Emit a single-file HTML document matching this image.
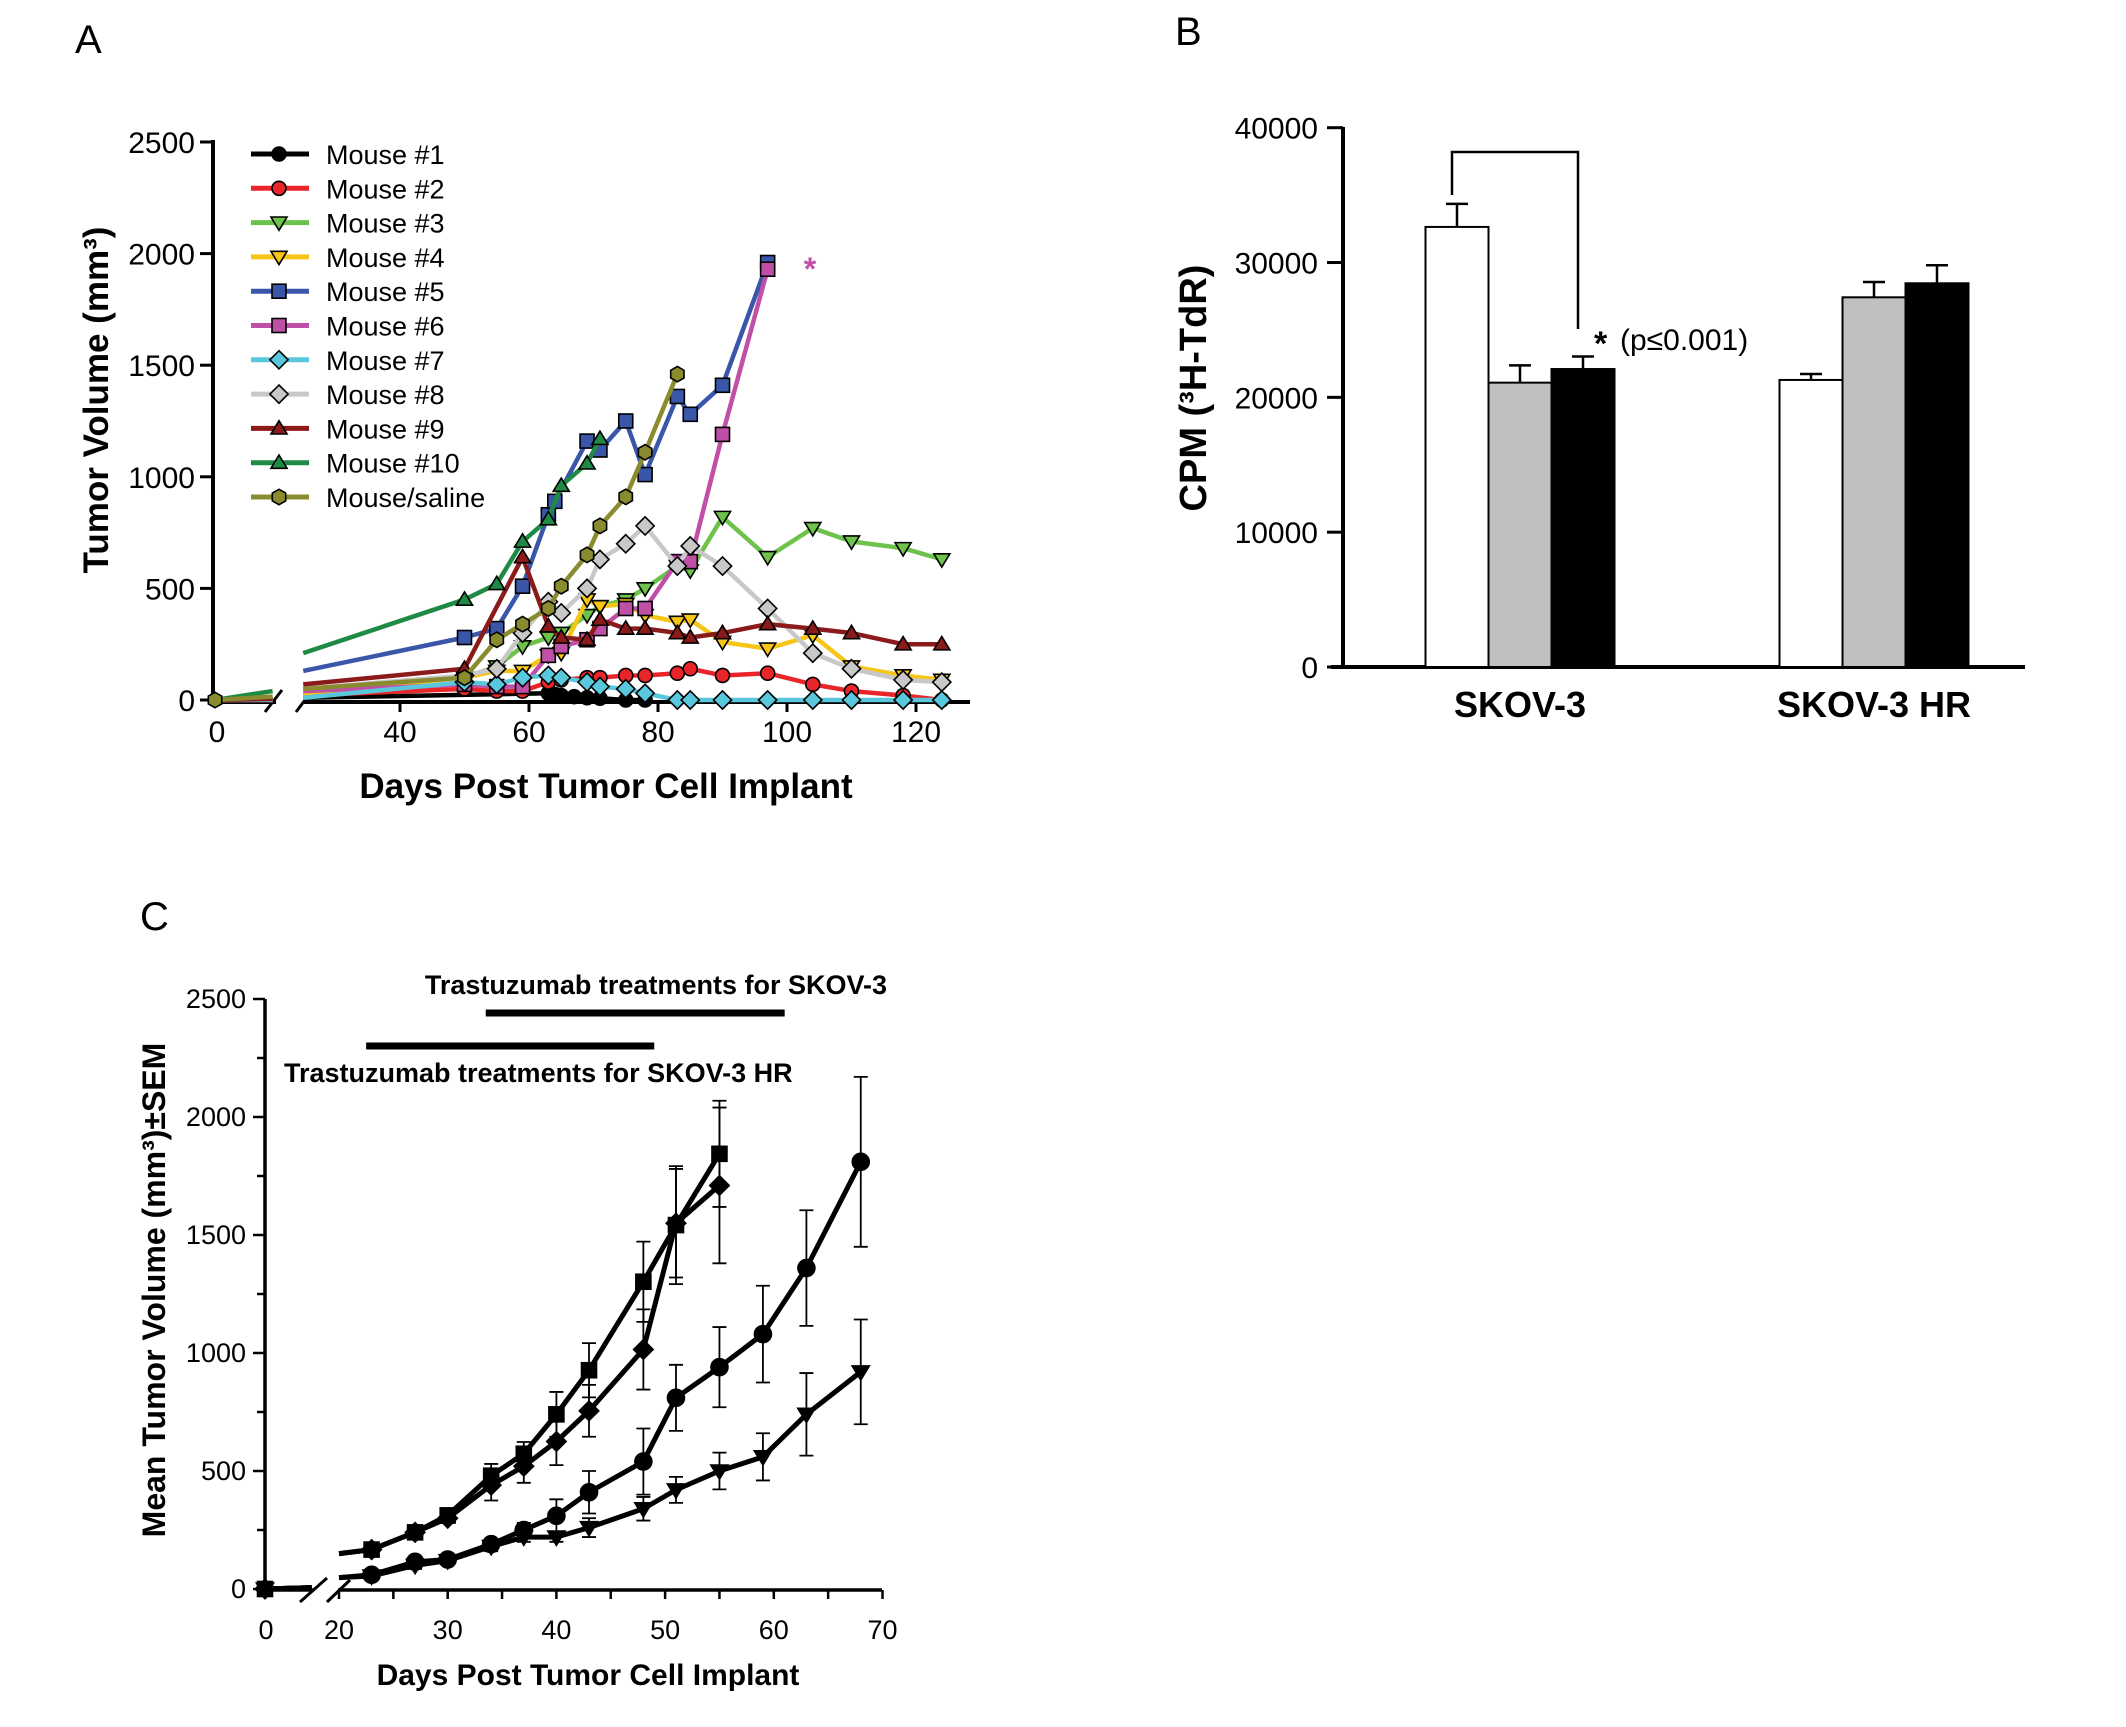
<!DOCTYPE html>
<html><head><meta charset="utf-8"><style>
html,body{margin:0;padding:0;background:#fff;}
svg{display:block;font-family:"Liberation Sans",Arial,sans-serif;}
</style></head><body>
<svg id="fig" width="2126" height="1727" viewBox="0 0 2126 1727" xmlns="http://www.w3.org/2000/svg">
<text x="75" y="53" font-size="40">A</text>
<text x="1175" y="45" font-size="40">B</text>
<text x="140" y="930" font-size="40">C</text>
<text transform="translate(108,400) rotate(-90)" text-anchor="middle" font-size="35" font-weight="bold">Tumor Volume (mm³)</text>
<text x="606" y="798" text-anchor="middle" font-size="35" font-weight="bold">Days Post Tumor Cell Implant</text>
<text x="810" y="280" text-anchor="middle" font-size="32" font-weight="bold" fill="#c04fa8">*</text>
<text transform="translate(1206,388) rotate(-90)" text-anchor="middle" font-size="38" font-weight="bold">CPM (³H-TdR)</text>
<text x="1594" y="355" font-size="34" font-weight="bold">*</text>
<text x="1620" y="350" font-size="30">(p≤0.001)</text>
<text transform="translate(165,1290) rotate(-90)" text-anchor="middle" font-size="32" font-weight="bold">Mean Tumor Volume (mm³)±SEM</text>
<text x="588" y="1685" text-anchor="middle" font-size="30" font-weight="bold">Days Post Tumor Cell Implant</text>
<text x="887" y="994" text-anchor="end" font-size="27" font-weight="bold">Trastuzumab treatments for SKOV-3</text>
<text x="284" y="1082" font-size="27" font-weight="bold">Trastuzumab treatments for SKOV-3 HR</text>
<g id="A"></g><g id="B"></g><g id="C"></g>
</svg>
<script>
// ---------- Panel A data ----------
const aNames = ["Mouse #1","Mouse #2","Mouse #3","Mouse #4","Mouse #5","Mouse #6","Mouse #7","Mouse #8","Mouse #9","Mouse #10","Mouse/saline"];
const aColors = ["#000000","#e8262a","#6cc24a","#f5c518","#3a56a8","#c04fa8","#5ac8dc","#c8c8c8","#8b1a1a","#1e8a44","#8a8a2e"];
const aShapes = ["circle","circle","tridown","tridown","square","square","diamond","diamond","triup","triup","hex"];
const aStart = [10,20,40,30,130,40,10,50,70,210,50];
const aPre = [0,0,5,10,5,5,0,5,5,40,15];
const aDays1 = [63,64,65,67,69,71,75,78];
const aVals1 = [30,25,20,15,10,8,0,0];
const aDays2 = [50,55,59,63,65,69,71,75,78,83,85,90,97,104,110,118,124];
const aVals2 = [50,40,40,80,90,100,100,110,110,120,140,110,120,70,40,20,0];
const aDays3 = [50,55,59,63,65,69,71,75,78,83,85,90,97,104,110,118,124];
const aVals3 = [100,150,240,280,300,380,420,450,500,600,580,820,640,770,710,680,630];
const aDays4 = [50,55,59,63,65,69,71,75,78,83,85,90,97,104,110,118,124];
const aVals4 = [100,130,130,200,210,450,420,430,380,350,360,260,230,290,150,110,90];
const aDays5 = [50,55,59,63,64,69,71,75,78,83,85,90,97];
const aVals5 = [280,320,510,830,890,1160,1120,1250,1010,1360,1280,1410,1960];
const aDays6 = [50,55,59,63,65,69,71,75,78,83,85,90,97];
const aVals6 = [70,60,60,200,240,270,320,410,410,620,620,1190,1930];
const aDays7 = [50,55,59,63,65,69,71,75,78,83,85,90,97,104,110,118,124];
const aVals7 = [80,70,100,110,100,80,60,50,30,0,0,0,0,0,0,0,0];
const aDays8 = [50,55,59,63,65,69,71,75,78,83,85,90,97,104,110,118,124];
const aVals8 = [110,140,300,440,390,500,630,700,780,600,690,600,410,210,140,90,80];
const aDays9 = [50,59,63,65,69,71,75,78,83,85,90,97,104,110,118,124];
const aVals9 = [140,640,330,280,270,360,320,320,300,280,300,340,320,300,250,250];
const aDays10 = [50,55,59,63,65,69,71];
const aVals10 = [450,520,710,810,960,1060,1170];
const aDays11 = [50,55,59,63,65,69,71,75,78,83];
const aVals11 = [100,270,340,410,510,650,780,910,1110,1460];
const aYTicks = [0,500,1000,1500,2000,2500];
const aXTicks = [40,60,80,100,120];
// ---------- Panel B data ----------
const bGroups = ["SKOV-3","SKOV-3 HR"];
const bFills = ["#ffffff","#c0c0c0","#000000"];
const bVals1 = [32640,21090,22100];
const bErr1 = [34350,22370,23030];
const bVals2 = [21290,27420,28460];
const bErr2 = [21730,28560,29800];
const bYTicks = [0,10000,20000,30000,40000];
// ---------- Panel C data ----------
const cShapes = ["square","diamond","circle","triangle"];
const cStart = [150,150,48,48];
const cDaysA = [23,27,30,34,37,40,43,48,51,55];
const cDaysB = [23,27,30,34,37,40,43,48,51,55,59,63,68];
const cSquare = [167,240,312,480,573,740,927,1302,1542,1844];
const cSquareSem = [15,20,20,50,50,95,115,170,250,225];
const cDiamond = [167,240,300,440,520,625,755,1015,1550,1710];
const cDiamondSem = [15,20,20,65,70,100,110,170,230,330];
const cCircle = [60,115,125,190,250,310,410,540,810,940,1080,1360,1810];
const cCircleSem = [10,15,15,20,30,70,90,140,140,170,205,245,360];
const cTri = [55,100,120,180,220,220,260,340,420,500,560,740,920];
const cTriSem = [10,15,15,20,20,20,40,50,55,78,100,175,222];
const cYTicks = [0,500,1000,1500,2000,2500];
const cXTicks = [20,30,40,50,60,70];
const cTreatSkov = [33.5,61];
const cTreatHR = [22.5,49];

const NS = "http://www.w3.org/2000/svg";
function mk(parent, tag, attrs){const e=document.createElementNS(NS,tag);for(const k in attrs)e.setAttribute(k,attrs[k]);parent.appendChild(e);return e;}
function marker(g, shape, x, y, r, fill){
  let e;
  if(shape==="circle"){e=mk(g,"circle",{cx:x,cy:y,r:r});}
  else if(shape==="square"){e=mk(g,"rect",{x:x-r,y:y-r,width:2*r,height:2*r});}
  else if(shape==="diamond"){e=mk(g,"polygon",{points:`${x},${y-r*1.3} ${x+r*1.3},${y} ${x},${y+r*1.3} ${x-r*1.3},${y}`});}
  else if(shape==="tridown"||shape==="triangle"){e=mk(g,"polygon",{points:`${x-r*1.15},${y-r*0.8} ${x+r*1.15},${y-r*0.8} ${x},${y+r*1.1}`});}
  else if(shape==="triup"){e=mk(g,"polygon",{points:`${x-r*1.15},${y+r*0.8} ${x+r*1.15},${y+r*0.8} ${x},${y-r*1.1}`});}
  else {let p=[];for(let i=0;i<6;i++){const a=Math.PI/6+i*Math.PI/3;p.push((x+r*1.1*Math.cos(a)).toFixed(1)+","+(y+r*1.1*Math.sin(a)).toFixed(1));}e=mk(g,"polygon",{points:p.join(" ")});}
  e.setAttribute("fill",fill);e.setAttribute("stroke","#000");e.setAttribute("stroke-width","1.6");
  return e;
}

// ---------- Panel A ----------
(function(){
  const g=document.getElementById("A");
  const yA=v=>700-v*(558/2500);
  const xR=d=>400+(d-40)*6.45;
  const xL=d=>215+d*6.4;
  let e;
  e=mk(g,"line",{x1:213,y1:140,x2:213,y2:702,stroke:"#000","stroke-width":4});
  
  
  e=mk(g,"line",{x1:211,y1:702,x2:276,y2:702,stroke:"#000","stroke-width":4});
  
  
  e=mk(g,"line",{x1:304,y1:702,x2:970,y2:702,stroke:"#000","stroke-width":4});
  
  
  e=mk(g,"path",{d:"M265,712 L282,690 M296,712 L311,692",stroke:"#000","stroke-width":3,fill:"none"});
  
  
  aYTicks.forEach(v=>{
    let t=mk(g,"line",{x1:200,y1:yA(v),x2:213,y2:yA(v),stroke:"#000","stroke-width":3});
    
    
    let l=mk(g,"text",{x:195,y:yA(v)+11,"text-anchor":"end","font-size":30});
    l.textContent=v;
    
    
  });
  aXTicks.forEach(v=>{
    let t=mk(g,"line",{x1:xR(v),y1:702,x2:xR(v),y2:712,stroke:"#000","stroke-width":3});
    
    
    let l=mk(g,"text",{x:xR(v),y:742,"text-anchor":"middle","font-size":30});
    l.textContent=v;
    
    
  });
  let l0=mk(g,"text",{x:217,y:742,"text-anchor":"middle","font-size":30});
  l0.textContent="0";
  
  
  const days=[aDays1,aDays2,aDays3,aDays4,aDays5,aDays6,aDays7,aDays8,aDays9,aDays10,aDays11];
  const vals=[aVals1,aVals2,aVals3,aVals4,aVals5,aVals6,aVals7,aVals8,aVals9,aVals10,aVals11];
  for(let i=0;i<aNames.length;i++){
    const sg=mk(g,"g",{});
    
    
    let pre=mk(sg,"line",{x1:xL(0),y1:yA(0),x2:xL(9),y2:yA(aPre[i]),stroke:aColors[i],"stroke-width":4.5});
    
    
    let pts=[[xR(25),yA(aStart[i])]];
    days[i].forEach((d,j)=>pts.push([xR(d),yA(vals[i][j])]));
    let pl=mk(sg,"polyline",{points:pts.map(p=>p.join(",")).join(" "),fill:"none",stroke:aColors[i],"stroke-width":4.5,"stroke-linejoin":"round"});
    
    
    days[i].forEach((d,j)=>{
      let m=marker(sg,aShapes[i],xR(d),yA(vals[i][j]),7,aColors[i]);
      
      
    });
  }
  let m0=marker(g,"hex",xL(0),yA(0),7,aColors[10]);
  
  
  for(let i=0;i<aNames.length;i++){
    const y=154+i*34.3;
    const lg=mk(g,"g",{});
    
    
    mk(lg,"line",{x1:251,y1:y,x2:309,y2:y,stroke:aColors[i],"stroke-width":5});
    marker(lg,aShapes[i],279,y,7,aColors[i]);
    let t=mk(lg,"text",{x:326,y:y+10,"font-size":27});
    t.textContent=aNames[i];
  }
})();

// ---------- Panel B ----------
(function(){
  const g=document.getElementById("B");
  const yB=v=>667-v*(539.3/40000);
  const centers=[1520,1874];
  const bw=63;
  let e;
  e=mk(g,"line",{x1:1343,y1:127,x2:1343,y2:669,stroke:"#000","stroke-width":4});
  
  
  e=mk(g,"line",{x1:1331,y1:667,x2:2025,y2:667,stroke:"#000","stroke-width":4});
  
  
  bYTicks.forEach(v=>{
    let t=mk(g,"line",{x1:1327,y1:yB(v),x2:1343,y2:yB(v),stroke:"#000","stroke-width":3});
    
    
    let l=mk(g,"text",{x:1318,y:yB(v)+11,"text-anchor":"end","font-size":30});
    l.textContent=v;
    
    
  });
  const vals=[bVals1,bVals2],errs=[bErr1,bErr2];
  for(let gi=0;gi<2;gi++){
    for(let k=0;k<3;k++){
      const x=centers[gi]-1.5*bw+k*bw;
      let ebar=mk(g,"path",{d:`M${x+bw/2},${yB(vals[gi][k])} V${yB(errs[gi][k])} M${x+bw/2-11},${yB(errs[gi][k])} H${x+bw/2+11}`,stroke:"#000","stroke-width":2.5,fill:"none"});
      
      
      let r=mk(g,"rect",{x:x,y:yB(vals[gi][k]),width:bw,height:667-yB(vals[gi][k]),fill:bFills[k],stroke:"#000","stroke-width":2});
      
      
    }
    let l=mk(g,"text",{x:centers[gi],y:717,"text-anchor":"middle","font-size":36,"font-weight":"bold"});
    l.textContent=bGroups[gi];
    
    
  }
  e=mk(g,"path",{d:"M1452,195 V152 H1578 V329",stroke:"#000","stroke-width":2.5,fill:"none"});
  
  
})();

// ---------- Panel C ----------
(function(){
  const g=document.getElementById("C");
  const yC=v=>1589-v*(590/2500);
  const xR=d=>447.7+(d-30)*10.87;
  const xL=d=>265+d*10.87;
  let e;
  e=mk(g,"line",{x1:265,y1:999,x2:265,y2:1591,stroke:"#000","stroke-width":3.5});
  
  
  e=mk(g,"line",{x1:263,y1:1590,x2:314,y2:1590,stroke:"#000","stroke-width":3.5});
  
  
  e=mk(g,"line",{x1:338,y1:1590,x2:882,y2:1590,stroke:"#000","stroke-width":3.5});
  
  
  e=mk(g,"path",{d:"M300,1602 L327,1578 M327,1602 L350,1580",stroke:"#000","stroke-width":3,fill:"none"});
  
  
  for(let v=0;v<=2500;v+=250){
    let t=mk(g,"line",{x1:v%500===0?253:257,y1:yC(v),x2:265,y2:yC(v),stroke:"#000","stroke-width":2.5});
    
    
  }
  cYTicks.forEach(v=>{
    let l=mk(g,"text",{x:246,y:yC(v)+9,"text-anchor":"end","font-size":27});
    l.textContent=v;
    
    
  });
  for(let d=20;d<=70;d+=5){
    let t=mk(g,"line",{x1:xR(d),y1:1590,x2:xR(d),y2:1599,stroke:"#000","stroke-width":2.5});
    
    
  }
  cXTicks.forEach(v=>{
    let l=mk(g,"text",{x:xR(v),y:1639,"text-anchor":"middle","font-size":27});
    l.textContent=v;
    
    
  });
  let l0=mk(g,"text",{x:266,y:1639,"text-anchor":"middle","font-size":27});
  l0.textContent="0";
  
  
  e=mk(g,"line",{x1:xR(cTreatSkov[0]),y1:1013,x2:xR(cTreatSkov[1]),y2:1013,stroke:"#000","stroke-width":7});
  
  
  e=mk(g,"line",{x1:xR(cTreatHR[0]),y1:1046,x2:xR(cTreatHR[1]),y2:1046,stroke:"#000","stroke-width":7});
  
  
  const sDays=[cDaysA,cDaysA,cDaysB,cDaysB];
  const sVals=[cSquare,cDiamond,cCircle,cTri];
  const sSem=[cSquareSem,cDiamondSem,cCircleSem,cTriSem];
  for(let i=0;i<4;i++){
    const sg=mk(g,"g",{});
    
    
    sDays[i].forEach((d,j)=>{
      const x=xR(d),v=sVals[i][j],s=sSem[i][j];
      let eb=mk(sg,"path",{d:`M${x},${yC(v-s)} V${yC(v+s)} M${x-7},${yC(v+s)} H${x+7} M${x-7},${yC(v-s)} H${x+7}`,stroke:"#000","stroke-width":1.8,fill:"none"});
      
      
    });
    let pre=mk(sg,"line",{x1:xL(0),y1:yC(0),x2:xL(4.3),y2:yC(6),stroke:"#000","stroke-width":5});
    
    
    let pts=[[xR(20),yC(cStart[i])]];
    sDays[i].forEach((d,j)=>pts.push([xR(d),yC(sVals[i][j])]));
    let pl=mk(sg,"polyline",{points:pts.map(p=>p.join(",")).join(" "),fill:"none",stroke:"#000","stroke-width":5,"stroke-linejoin":"round"});
    
    
    sDays[i].forEach((d,j)=>{
      let m=marker(sg,cShapes[i],xR(d),yC(sVals[i][j]),cShapes[i]==="circle"?8.5:7.5,"#000");
      
      
    });
    let m0=marker(sg,cShapes[i],xL(0),yC(0),7.5,"#000");
    
    
  }
})();
</script>
</body></html>
